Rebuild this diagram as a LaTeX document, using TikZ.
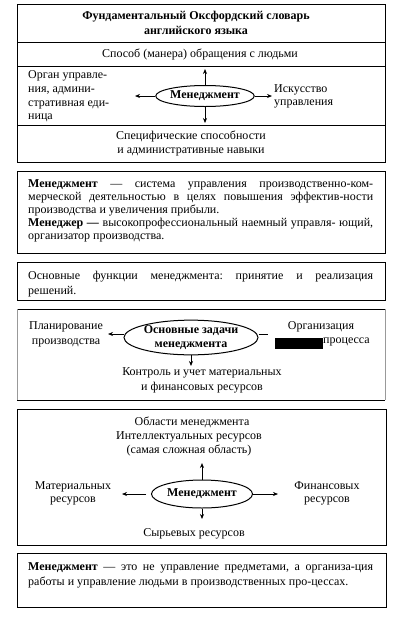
\documentclass[tikz,border=0pt]{standalone}
\usepackage{fontspec}
\setmainfont{Liberation Serif}
\usetikzlibrary{arrows.meta, positioning, shapes.geometric}
\frenchspacing

\newcommand{\fullline}[1]{\makebox[345pt][s]{\spaceskip=0pt\xspaceskip=0pt #1}}

\begin{document}
\begin{tikzpicture}[x=1pt, y=-1pt, >={Stealth[length=5pt, width=4pt]},
  frame/.style={draw=black, line width=1pt},
  side/.style={draw=black!40, line width=1pt},
  oval/.style={ellipse, draw=black, line width=1pt, inner sep=0pt,
               align=center, font=\fontsize{12}{14.5}\selectfont\bfseries},
  txt/.style={inner sep=0pt, align=center, font=\fontsize{12}{14.5}\selectfont},
  para/.style={anchor=west, inner sep=0pt, text width=345pt, align=justify,
               font=\fontsize{12}{13}\selectfont},
  arr/.style={->, line width=0.7pt},
  ln/.style={line width=0.7pt}
]
\useasboundingbox (0,0) rectangle (401,625);

%% ---- Block 1: dictionary definitions ----
\draw[frame] (17,4) rectangle (385,162);
\draw[frame] (17,42) -- (385,42);
\draw[frame] (17,66) -- (385,66);
\draw[frame] (17,125) -- (385,125);

\node[txt, font=\fontsize{12}{15}\selectfont\bfseries] (dict) at (196,23)
  {Фундаментальный Оксфордский словарь\\английского языка};
\node[txt] (manner) at (200,54) {Способ (манера) обращения  с  людьми};
\node[oval, minimum width=88pt, minimum height=21pt] (mgmt) at (205,96) {Менеджмент};
\node[txt, anchor=west, align=left, font=\fontsize{12}{13.7}\selectfont]
  (organ) at (28,96.5) {Орган управле-\\ния, админи-\\стративная  еди-\\ница};
\node[txt, anchor=west, align=left, font=\fontsize{12}{13.5}\selectfont]
  (art) at (274,96.5) {Искусство\\управления};
\node[txt] (skills) at (191,143.5) {Специфические  способности\\и административные  навыки};

\coordinate (mgmtup)    at (205,69);
\coordinate (mgmtdown)  at (205,123);
\coordinate (mgmtleft)  at (135,96);
\coordinate (mgmtright) at (272,96);
\draw[arr] (mgmt.north) -- (mgmtup);
\draw[arr] (mgmt.south) -- (mgmtdown);
\draw[arr] (mgmt.west)  -- (mgmtleft);
\draw[arr] (mgmt.east)  -- (mgmtright);

%% ---- Block 2: manager definitions ----
\draw[frame] (17,171) rectangle (385,253);
\node[para] (defs) at (28,211)
  {\fullline{\textbf{Менеджмент} — система управления производственно-ком-}\\
   \fullline{мерческой деятельностью в целях повышения эффектив-ности}\\
   производства и увеличения  прибыли.\\
   \fullline{\textbf{Менеджер —} высокопрофессиональный наемный управля- ющий,}\\
   организатор производства.};

%% ---- Block 3: main functions ----
\draw[frame] (17,262) rectangle (385,300);
\node[para, font=\fontsize{12}{15}\selectfont] (funcs) at (28,284.5)
  {\fullline{Основные функции менеджмента: принятие и реализация}\\
   решений.};

%% ---- Block 4: main tasks ----
\draw[frame] (17,309) -- (385,309);
\draw[frame] (17,400) -- (385,400);
\draw[side] (17,309) -- (17,400);
\draw[side] (385,309) -- (385,400);

\node[oval, minimum width=134pt, minimum height=31pt] (tasks) at (191,337.5)
  {Основные задачи\\менеджмента};
\node[txt, font=\fontsize{12}{15}\selectfont] (plan) at (66,334.5) {Планирование\\производства};
\node[txt] (org) at (321,327) {Организация};
\node[txt, anchor=west] (proc) at (323,342) {процесса};
\fill[black] (275,338) rectangle (323,349);
\node[txt, font=\fontsize{12}{15}\selectfont] (control) at (202,380.5)
  {Контроль и учет материальных\\и финансовых  ресурсов};

\coordinate (tasksleft)  at (108,334);
\coordinate (tasksright) at (268,334);
\coordinate (tasksdown)  at (191,366);
\draw[arr] ([yshift=3.5pt]tasks.west) -- (tasksleft);
\draw[ln]  ([yshift=3.5pt]tasks.east) -- (tasksright);
\draw[arr] (tasks.south) -- (tasksdown);

%% ---- Block 5: areas of management ----
\draw[frame] (17,409) rectangle (386,545);
\node[txt] (areas) at (192,422) {Области менеджмента};
\node[txt] (intel) at (189,444) {Интеллектуальных ресурсов\\(самая сложная  область)};
\node[oval, minimum width=101pt, minimum height=28pt] (core) at (202,494) {Менеджмент};
\node[txt, font=\fontsize{12}{13.5}\selectfont] (material) at (73,493.5) {Материальных\\ресурсов};
\node[txt, font=\fontsize{12}{13.5}\selectfont] (finance) at (327,493.5) {Финансовых\\ресурсов};
\node[txt] (raw) at (194,534) {Сырьевых ресурсов};

\coordinate (coreup)    at (202,463);
\coordinate (coredown)  at (202,519);
\coordinate (coreleft)  at (122,494);
\coordinate (coreright) at (278,494);
\draw[arr] (core.north) -- (coreup);
\draw[arr] (core.south) -- (coredown);
\draw[arr, shorten <=5pt] (core.west) -- (coreleft);
\draw[arr] (core.east) -- (coreright);

%% ---- Block 6: closing definition ----
\draw[frame] (17,553) rectangle (386,607);
\node[para, font=\fontsize{12}{15}\selectfont] (people) at (28,575.5)
  {\fullline{\textbf{Менеджмент} — это не управление предметами, а организа-ция}\\
   работы и управление  людьми в производственных  про-цессах.};

\end{tikzpicture}
\end{document}
